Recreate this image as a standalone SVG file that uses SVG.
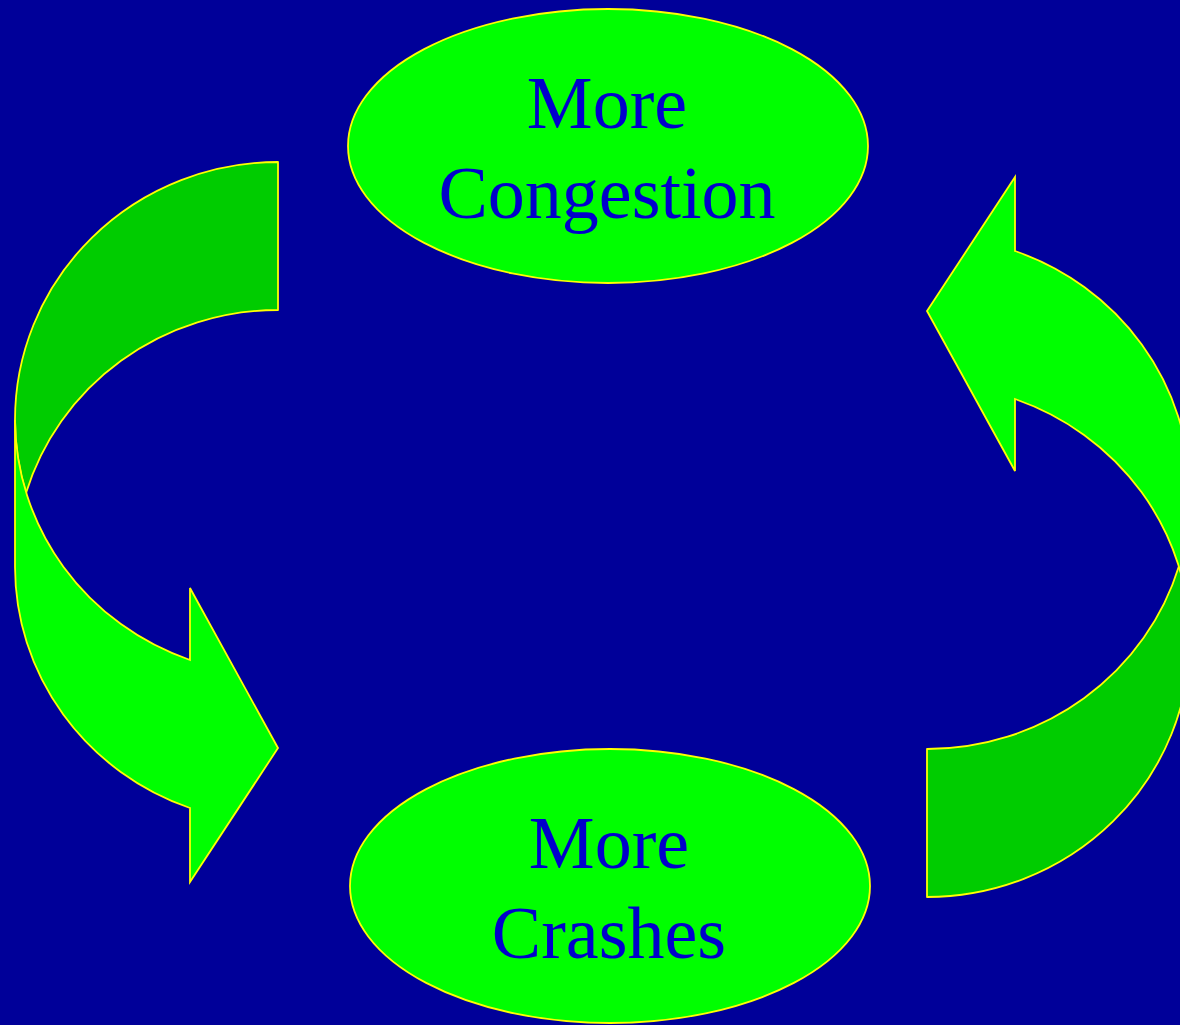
<svg xmlns="http://www.w3.org/2000/svg" width="1180" height="1025" viewBox="0 0 1180 1025">
<style>
.bg{fill:#000099}
.node{fill:#00FF00;stroke:#FFFF00;stroke-width:1.8}
.back{fill:#00CC00;stroke:#FFFF00;stroke-width:1.8;stroke-linejoin:round}
.front{fill:#00FF00;stroke:#FFFF00;stroke-width:1.8;stroke-linejoin:miter}
.lbl{font-family:"Liberation Serif","Times New Roman",serif;font-size:74px;fill:#0000CC;text-anchor:middle}
</style>
<defs>
<g id="curved">
<path class="back" d="M278,162 A263,258 0 0 0 15,420 A263,256 0 0 0 26,493 A263,257 0 0 1 278,310 Z"/>
<path class="front" d="M15,420 L15,567 A263,256 0 0 0 190,808 L190,882 L278,748 L190,588 L190,660 A263,256 0 0 1 15,420 Z"/>
</g>
</defs>
<rect class="bg" x="0" y="0" width="1180" height="1025"/>
<g id="connectors">
<use id="arrow-left" href="#curved"/>
<use id="arrow-right" href="#curved" transform="rotate(180 602.5 529.5)"/>
</g>
<g id="node-congestion">
<ellipse class="node" cx="608" cy="146" rx="260" ry="137"/>
<text class="lbl" x="607" y="128">More</text>
<text class="lbl" x="607" y="218">Congestion</text>
</g>
<g id="node-crashes">
<ellipse class="node" cx="610" cy="886" rx="260" ry="137"/>
<text class="lbl" x="609" y="868">More</text>
<text class="lbl" x="609" y="958">Crashes</text>
</g>
</svg>
